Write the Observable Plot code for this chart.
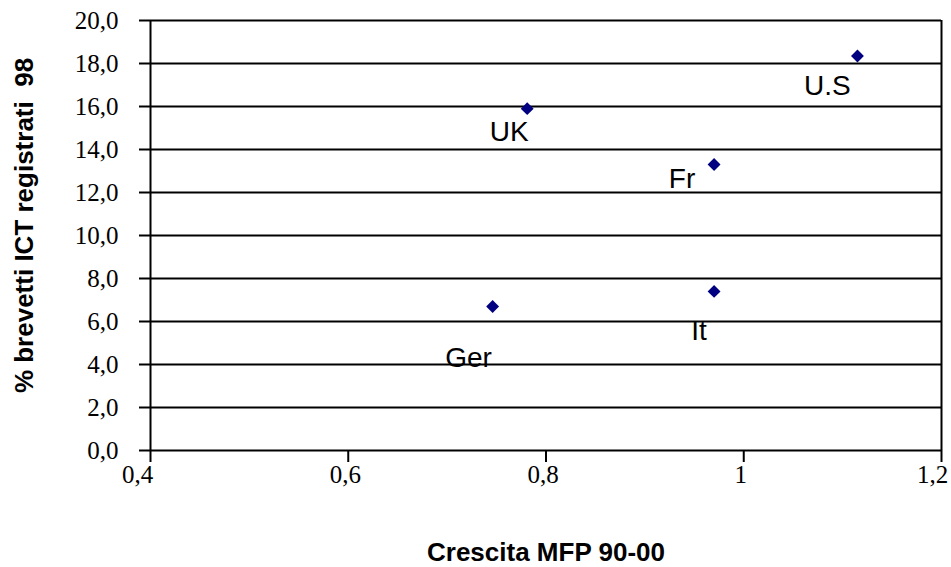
<!DOCTYPE html>
<html>
<head>
<meta charset="utf-8">
<script src="https://cdn.jsdelivr.net/npm/d3@7"></script>
<script src="https://cdn.jsdelivr.net/npm/@observablehq/plot@0.6"></script>
<style>
  html, body { margin: 0; padding: 0; background: #ffffff; }
  #chart svg { display: block; }
</style>
</head>
<body>
<div id="chart"></div>
<script>
// ---- Data ----
const countries = ["U.S", "UK", "Fr", "It", "Ger"];
const mfpGrowth = [1.115, 0.781, 0.970, 0.970, 0.746];      // Crescita MFP 90-00
const ictPatentShare = [18.35, 15.9, 13.3, 7.4, 6.7];       // % brevetti ICT registrati 98

const xTicks = [0.4, 0.6, 0.8, 1.0, 1.2];
const xTickLabels = ["0,4", "0,6", "0,8", "1", "1,2"];
const yTicks = [0, 2, 4, 6, 8, 10, 12, 14, 16, 18, 20];
const yTickLabels = ["0,0", "2,0", "4,0", "6,0", "8,0", "10,0", "12,0", "14,0", "16,0", "18,0", "20,0"];

const xTitle = "Crescita MFP 90-00";
const yTitle = "% brevetti ICT registrati  98";

// ---- Build table ----
const points = countries.map((c, i) => ({country: c, x: mfpGrowth[i], y: ictPatentShare[i]}));

// label placement (pixel offsets from each marker, like the original data labels)
const labelOffsets = {"U.S": [-30, 30], "UK": [-18, 23], "Fr": [-32, 14], "It": [-15, 40], "Ger": [-24, 52]};
// horizontal nudge of each x tick label
const xTickNudge = [-13, -3, -3, -3, -9];

const serif = "'Liberation Serif', 'Times New Roman', serif";
const sans = "'Liberation Sans', Arial, sans-serif";

const labelMarks = points.map(p => Plot.text([p], {
  x: "x", y: "y", text: "country",
  dx: labelOffsets[p.country][0], dy: labelOffsets[p.country][1],
  fontFamily: sans, fontSize: 28, fill: "#000", textAnchor: "middle"
}));

const xAxisTickMarks = xTicks.map((t, i) => [
  Plot.axisX({
    ticks: [t], tickSize: 12, text: null, label: null,
    stroke: "#000", strokeWidth: 2, strokeOpacity: 1
  }),
  Plot.axisX({
    ticks: [t], tickFormat: () => xTickLabels[i], tickSize: 0, tickPadding: 15, label: null,
    dx: xTickNudge[i], fontFamily: serif, fontSize: 25, fill: "#000"
  })
]).flat();

const chart = Plot.plot({
  width: 951,
  height: 567,
  marginLeft: 150,
  marginRight: 10,
  marginTop: 20,
  marginBottom: 117,
  style: {background: "#ffffff", color: "#000"},
  x: {domain: [0.4, 1.2], axis: null},
  y: {domain: [0, 20], axis: null},
  marks: [
    Plot.ruleY(yTicks, {stroke: "#000", strokeWidth: 2, strokeOpacity: 1}),
    Plot.ruleX([xTicks[0], xTicks[xTicks.length - 1]], {stroke: "#000", strokeWidth: 2, strokeOpacity: 1}),
    Plot.axisY({
      ticks: yTicks, tickFormat: (d, i) => yTickLabels[i], tickSize: 11, tickPadding: 21,
      stroke: "#000", strokeWidth: 2, strokeOpacity: 1, label: null,
      fontFamily: serif, fontSize: 25, fill: "#000"
    }),
    ...xAxisTickMarks,
    Plot.dot(points, {x: "x", y: "y", symbol: "diamond2", r: 5.8, fill: "#000080", stroke: "none"}),
    ...labelMarks,
    Plot.text([yTitle], {
      frameAnchor: "left", dx: -126, dy: -10, rotate: -90, text: d => d,
      fontFamily: sans, fontWeight: "bold", fontSize: 26, fill: "#000", textAnchor: "middle"
    }),
    Plot.text([xTitle], {
      frameAnchor: "bottom", dx: 0, dy: 110, text: d => d,
      fontFamily: sans, fontWeight: "bold", fontSize: 26, fill: "#000", textAnchor: "middle"
    })
  ]
});

chart.querySelectorAll("text").forEach(t => t.style.whiteSpace = "pre");
document.getElementById("chart").appendChild(chart);
</script>
</body>
</html>
